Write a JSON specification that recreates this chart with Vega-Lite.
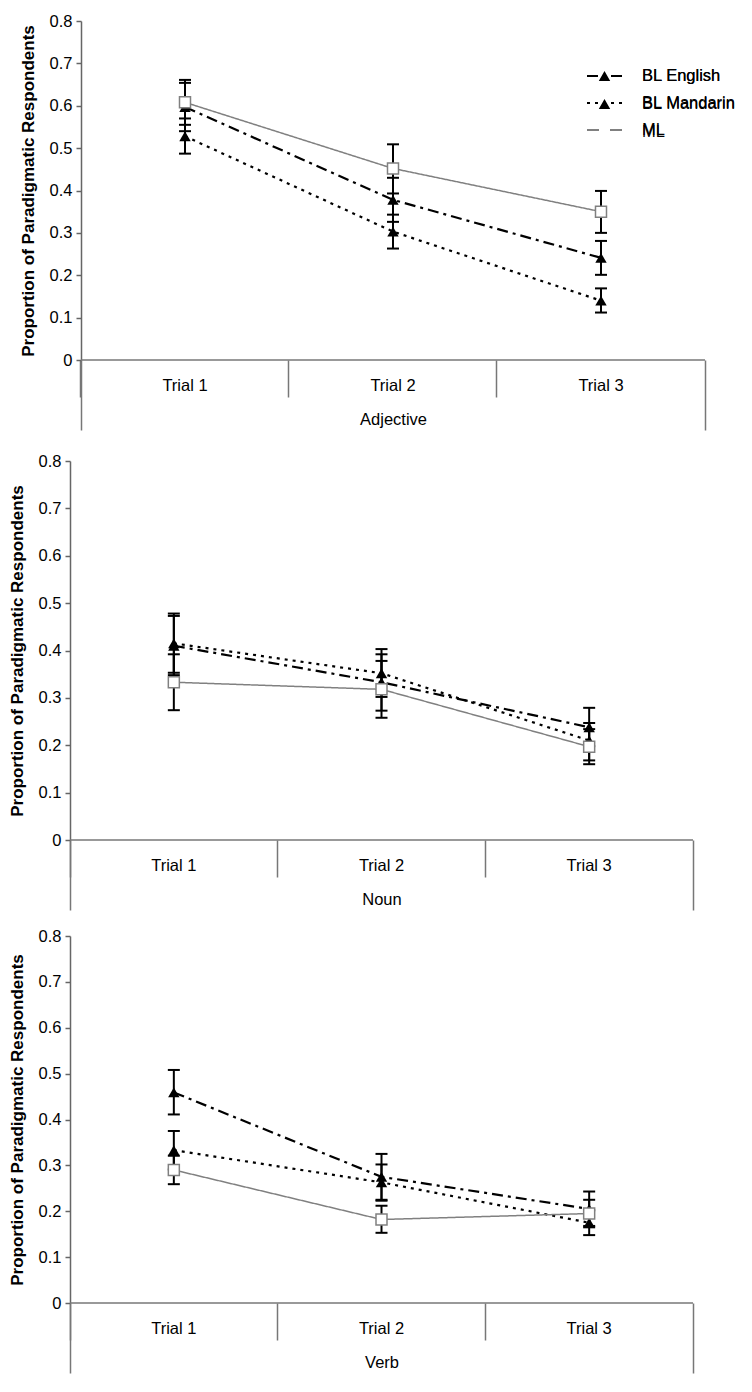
{
  "$schema": "https://vega.github.io/schema/vega-lite/v6.json",
  "background": "white",
  "padding": {"left": 8, "top": 13, "right": 5, "bottom": 5},
  "config": {
    "view": {"stroke": null},
    "font": "Liberation Sans",
    "axisY": {"grid": false, "domainColor": "#666666", "domainWidth": 1.5, "tickColor": "#666666", "tickWidth": 1.5, "tickSize": 5, "labelFontSize": 16.5, "labelColor": "black", "labelPadding": 4, "titleFontSize": 17, "titleFontWeight": "bold", "titleColor": "black", "titlePadding": 12}
  },
  "datasets": {
    "d": [
      {"pos":"Adjective","group":"BL English","trial":"Trial 1","value":0.597,"lo":0.540,"hi":0.654},
      {"pos":"Adjective","group":"BL English","trial":"Trial 2","value":0.378,"lo":0.326,"hi":0.430},
      {"pos":"Adjective","group":"BL English","trial":"Trial 3","value":0.241,"lo":0.201,"hi":0.281},
      {"pos":"Adjective","group":"BL Mandarin","trial":"Trial 1","value":0.528,"lo":0.487,"hi":0.570},
      {"pos":"Adjective","group":"BL Mandarin","trial":"Trial 2","value":0.303,"lo":0.263,"hi":0.343},
      {"pos":"Adjective","group":"BL Mandarin","trial":"Trial 3","value":0.140,"lo":0.112,"hi":0.169},
      {"pos":"Adjective","group":"ML","trial":"Trial 1","value":0.608,"lo":0.555,"hi":0.661},
      {"pos":"Adjective","group":"ML","trial":"Trial 2","value":0.452,"lo":0.393,"hi":0.509},
      {"pos":"Adjective","group":"ML","trial":"Trial 3","value":0.350,"lo":0.300,"hi":0.399},
      {"pos":"Noun","group":"BL English","trial":"Trial 1","value":0.410,"lo":0.348,"hi":0.473},
      {"pos":"Noun","group":"BL English","trial":"Trial 2","value":0.333,"lo":0.273,"hi":0.392},
      {"pos":"Noun","group":"BL English","trial":"Trial 3","value":0.238,"lo":0.198,"hi":0.279},
      {"pos":"Noun","group":"BL Mandarin","trial":"Trial 1","value":0.415,"lo":0.353,"hi":0.478},
      {"pos":"Noun","group":"BL Mandarin","trial":"Trial 2","value":0.352,"lo":0.302,"hi":0.403},
      {"pos":"Noun","group":"BL Mandarin","trial":"Trial 3","value":0.210,"lo":0.168,"hi":0.247},
      {"pos":"Noun","group":"ML","trial":"Trial 1","value":0.333,"lo":0.274,"hi":0.392},
      {"pos":"Noun","group":"ML","trial":"Trial 2","value":0.318,"lo":0.258,"hi":0.378},
      {"pos":"Noun","group":"ML","trial":"Trial 3","value":0.197,"lo":0.160,"hi":0.234},
      {"pos":"Verb","group":"BL English","trial":"Trial 1","value":0.459,"lo":0.411,"hi":0.508},
      {"pos":"Verb","group":"BL English","trial":"Trial 2","value":0.275,"lo":0.225,"hi":0.325},
      {"pos":"Verb","group":"BL English","trial":"Trial 3","value":0.205,"lo":0.168,"hi":0.243},
      {"pos":"Verb","group":"BL Mandarin","trial":"Trial 1","value":0.333,"lo":0.291,"hi":0.375},
      {"pos":"Verb","group":"BL Mandarin","trial":"Trial 2","value":0.263,"lo":0.223,"hi":0.302},
      {"pos":"Verb","group":"BL Mandarin","trial":"Trial 3","value":0.175,"lo":0.148,"hi":0.202},
      {"pos":"Verb","group":"ML","trial":"Trial 1","value":0.290,"lo":0.259,"hi":0.321},
      {"pos":"Verb","group":"ML","trial":"Trial 2","value":0.182,"lo":0.153,"hi":0.212},
      {"pos":"Verb","group":"ML","trial":"Trial 3","value":0.195,"lo":0.165,"hi":0.225}
    ]
  },
  "resolve": {"scale": {"color": "independent", "strokeDash": "independent"}},
  "spacing": 22,
  "vconcat": [
    {
      "width": 635,
      "height": 339,
      "resolve": {"scale": {"x": "independent", "y": "independent"}},
      "layer": [
        {
          "data": {"name": "d"},
          "transform": [{"filter": "datum.pos === 'Adjective'"}],
          "encoding": {
            "x": {"field": "trial", "type": "nominal",
              "scale": {"type": "band", "paddingInner": 0, "paddingOuter": 0.02644, "align": 1, "domain": ["Trial 1", "Trial 2", "Trial 3"]},
              "axis": {"title": "Adjective", "titleX": 323, "labelAngle": 0, "bandPosition": 0, "tickSize": 37, "tickColor": "#777777", "tickWidth": 1.5, "domain": false, "grid": false, "labelPadding": -20, "labelFontSize": 16.5, "labelColor": "black", "titleFontSize": 16.5, "titleFontWeight": "normal", "titleColor": "black", "titlePadding": 14}}
          },
          "layer": [
            {"mark": {"type": "rule", "color": "black", "strokeWidth": 2},
             "encoding": {"y": {"field": "lo", "type": "quantitative", "scale": {"domain": [0, 0.8], "nice": false}, "axis": {"title": "Proportion of Paradigmatic Respondents", "values": [0, 0.1, 0.2, 0.3, 0.4, 0.5, 0.6, 0.7, 0.8], "format": ".1~f", "offset": -11}}, "y2": {"field": "hi"}}},
            {"mark": {"type": "tick", "color": "black", "thickness": 2, "size": 12, "opacity": 1},
             "encoding": {"y": {"field": "lo", "type": "quantitative", "axis": {"title": "Proportion of Paradigmatic Respondents", "values": [0, 0.1, 0.2, 0.3, 0.4, 0.5, 0.6, 0.7, 0.8], "format": ".1~f", "offset": -11}}}},
            {"mark": {"type": "tick", "color": "black", "thickness": 2, "size": 12, "opacity": 1},
             "encoding": {"y": {"field": "hi", "type": "quantitative", "axis": {"title": "Proportion of Paradigmatic Respondents", "values": [0, 0.1, 0.2, 0.3, 0.4, 0.5, 0.6, 0.7, 0.8], "format": ".1~f", "offset": -11}}}},
            {"transform": [{"filter": "datum.group !== 'ML'"}],
             "mark": {"type": "line", "strokeWidth": 2.2},
             "encoding": {
               "y": {"field": "value", "type": "quantitative", "axis": {"title": "Proportion of Paradigmatic Respondents", "values": [0, 0.1, 0.2, 0.3, 0.4, 0.5, 0.6, 0.7, 0.8], "format": ".1~f", "offset": -11}},
               "color": {"field": "group", "type": "nominal", "scale": {"domain": ["BL English", "BL Mandarin", "ML"], "range": ["black", "black", "#808080"]},
                 "legend": {"title": null, "orient": "none", "legendX": 503, "legendY": 36.5, "padding": 0, "symbolSize": 1225, "symbolStrokeWidth": 2, "symbolOffset": 13, "labelOffset": 19, "labelFontSize": 16.5, "labelColor": "black", "rowPadding": 0}},
               "strokeDash": {"field": "group", "type": "nominal", "scale": {"domain": ["BL English", "BL Mandarin", "ML"], "range": [[11, 5, 3, 5], [3, 5], [1, 0]]},
                 "legend": {"title": null, "orient": "none", "legendX": 503, "legendY": 36.5, "padding": 0, "symbolSize": 1225, "symbolStrokeWidth": 2, "symbolOffset": 13, "labelOffset": 19, "labelFontSize": 16.5, "labelColor": "black", "rowPadding": 0}}
             }},
            {"transform": [{"filter": "datum.group === 'ML'"}],
             "mark": {"type": "line", "strokeWidth": 1.5},
             "encoding": {
               "y": {"field": "value", "type": "quantitative", "axis": {"title": "Proportion of Paradigmatic Respondents", "values": [0, 0.1, 0.2, 0.3, 0.4, 0.5, 0.6, 0.7, 0.8], "format": ".1~f", "offset": -11}},
               "color": {"field": "group", "type": "nominal",
                 "legend": {"title": null, "orient": "none", "legendX": 503, "legendY": 36.5, "padding": 0, "symbolSize": 1225, "symbolStrokeWidth": 2, "symbolOffset": 13, "labelOffset": 19, "labelFontSize": 16.5, "labelColor": "black", "rowPadding": 0}},
               "strokeDash": {"field": "group", "type": "nominal",
                 "legend": {"title": null, "orient": "none", "legendX": 503, "legendY": 36.5, "padding": 0, "symbolSize": 1225, "symbolStrokeWidth": 2, "symbolOffset": 13, "labelOffset": 19, "labelFontSize": 16.5, "labelColor": "black", "rowPadding": 0}}
             }},
            {"transform": [{"filter": "datum.group !== 'ML'"}],
             "mark": {"type": "point", "shape": "triangle-up", "filled": true, "color": "black", "size": 130, "opacity": 1},
             "encoding": {"y": {"field": "value", "type": "quantitative", "axis": {"title": "Proportion of Paradigmatic Respondents", "values": [0, 0.1, 0.2, 0.3, 0.4, 0.5, 0.6, 0.7, 0.8], "format": ".1~f", "offset": -11}}}},
            {"transform": [{"filter": "datum.group === 'ML'"}],
             "mark": {"type": "point", "shape": "square", "filled": true, "fill": "white", "stroke": "#808080", "strokeWidth": 1.5, "size": 121, "opacity": 1},
             "encoding": {"y": {"field": "value", "type": "quantitative", "axis": {"title": "Proportion of Paradigmatic Respondents", "values": [0, 0.1, 0.2, 0.3, 0.4, 0.5, 0.6, 0.7, 0.8], "format": ".1~f", "offset": -11}}}},
            {"transform": [{"filter": "false"}],
             "mark": {"type": "point", "filled": true, "size": 121, "opacity": 1},
             "encoding": {
               "y": {"field": "value", "type": "quantitative", "axis": {"title": "Proportion of Paradigmatic Respondents", "values": [0, 0.1, 0.2, 0.3, 0.4, 0.5, 0.6, 0.7, 0.8], "format": ".1~f", "offset": -11}},
               "shape": {"field": "group", "type": "nominal", "scale": {"domain": ["BL English", "BL Mandarin", "ML"], "range": ["M-1.8,0H1.8M0,-0.282L-0.326,0.282L0.326,0.282Z", "M-1.8,0H1.8M0,-0.282L-0.326,0.282L0.326,0.282Z", "M-1.8,0H-0.314M0.314,0H1.8M-0.314,-0.314H0.314V0.314H-0.314Z"]},
                 "legend": {"title": null, "orient": "none", "legendX": 503, "legendY": 36.5, "padding": 0, "symbolSize": 1225, "symbolStrokeWidth": 2, "symbolOffset": 13, "labelOffset": 19, "labelFontSize": 16.5, "labelColor": "black", "rowPadding": 0}},
               "fill": {"field": "group", "type": "nominal", "scale": {"domain": ["BL English", "BL Mandarin", "ML"], "range": ["black", "black", "white"]},
                 "legend": {"title": null, "orient": "none", "legendX": 503, "legendY": 36.5, "padding": 0, "symbolSize": 1225, "symbolStrokeWidth": 2, "symbolOffset": 13, "labelOffset": 19, "labelFontSize": 16.5, "labelColor": "black", "rowPadding": 0}}
             }}
          ]
        },
        {
          "data": {"values": [{}]},
          "mark": {"type": "rule", "color": "#777777", "strokeWidth": 1.5},
          "encoding": {
            "x": {"datum": 0, "type": "quantitative", "scale": {"domain": [-0.017628, 1], "nice": false, "zero": false},
              "axis": {"orient": "bottom", "values": [0, 1], "tickSize": 70, "tickColor": "#777777", "tickWidth": 1.5, "labels": false, "domain": false, "title": null, "grid": false}},
            "x2": {"datum": 1},
            "y": {"datum": 0, "type": "quantitative", "scale": {"domain": [0, 0.8], "nice": false}, "axis": null}
          }
        }
      ]
    },
    {
      "spacing": 17,
      "vconcat": [
        {
          "width": 623,
          "height": 379,
          "resolve": {"scale": {"x": "independent", "y": "independent"}},
          "layer": [
            {
              "data": {"name": "d"},
              "transform": [{"filter": "datum.pos === 'Noun'"}],
              "encoding": {
                "x": {"field": "trial", "type": "nominal",
                  "scale": {"type": "band", "paddingInner": 0, "paddingOuter": 0, "domain": ["Trial 1", "Trial 2", "Trial 3"]},
                  "axis": {"title": "Noun", "labelAngle": 0, "bandPosition": 0, "tickSize": 37, "tickColor": "#777777", "tickWidth": 1.5, "domain": false, "grid": false, "labelPadding": -20, "labelFontSize": 16.5, "labelColor": "black", "titleFontSize": 16.5, "titleFontWeight": "normal", "titleColor": "black", "titlePadding": 14}}
              },
              "layer": [
                {"mark": {"type": "rule", "color": "black", "strokeWidth": 2},
                 "encoding": {"y": {"field": "lo", "type": "quantitative", "scale": {"domain": [0, 0.8], "nice": false}, "axis": {"title": "Proportion of Paradigmatic Respondents", "values": [0, 0.1, 0.2, 0.3, 0.4, 0.5, 0.6, 0.7, 0.8], "format": ".1~f"}}, "y2": {"field": "hi"}}},
                {"mark": {"type": "tick", "color": "black", "thickness": 2, "size": 12, "opacity": 1},
                 "encoding": {"y": {"field": "lo", "type": "quantitative", "axis": {"title": "Proportion of Paradigmatic Respondents", "values": [0, 0.1, 0.2, 0.3, 0.4, 0.5, 0.6, 0.7, 0.8], "format": ".1~f"}}}},
                {"mark": {"type": "tick", "color": "black", "thickness": 2, "size": 12, "opacity": 1},
                 "encoding": {"y": {"field": "hi", "type": "quantitative", "axis": {"title": "Proportion of Paradigmatic Respondents", "values": [0, 0.1, 0.2, 0.3, 0.4, 0.5, 0.6, 0.7, 0.8], "format": ".1~f"}}}},
                {"transform": [{"filter": "datum.group !== 'ML'"}],
                 "mark": {"type": "line", "strokeWidth": 2.2},
                 "encoding": {
                   "y": {"field": "value", "type": "quantitative", "axis": {"title": "Proportion of Paradigmatic Respondents", "values": [0, 0.1, 0.2, 0.3, 0.4, 0.5, 0.6, 0.7, 0.8], "format": ".1~f"}},
                   "color": {"field": "group", "type": "nominal", "scale": {"domain": ["BL English", "BL Mandarin", "ML"], "range": ["black", "black", "#808080"]}, "legend": null},
                   "strokeDash": {"field": "group", "type": "nominal", "scale": {"domain": ["BL English", "BL Mandarin", "ML"], "range": [[11, 5, 3, 5], [3, 5], [1, 0]]}, "legend": null}
                 }},
                {"transform": [{"filter": "datum.group === 'ML'"}],
                 "mark": {"type": "line", "strokeWidth": 1.5},
                 "encoding": {
                   "y": {"field": "value", "type": "quantitative", "axis": {"title": "Proportion of Paradigmatic Respondents", "values": [0, 0.1, 0.2, 0.3, 0.4, 0.5, 0.6, 0.7, 0.8], "format": ".1~f"}},
                   "color": {"field": "group", "type": "nominal", "legend": null},
                   "strokeDash": {"field": "group", "type": "nominal", "legend": null}
                 }},
                {"transform": [{"filter": "datum.group !== 'ML'"}],
                 "mark": {"type": "point", "shape": "triangle-up", "filled": true, "color": "black", "size": 130, "opacity": 1},
                 "encoding": {"y": {"field": "value", "type": "quantitative", "axis": {"title": "Proportion of Paradigmatic Respondents", "values": [0, 0.1, 0.2, 0.3, 0.4, 0.5, 0.6, 0.7, 0.8], "format": ".1~f"}}}},
                {"transform": [{"filter": "datum.group === 'ML'"}],
                 "mark": {"type": "point", "shape": "square", "filled": true, "fill": "white", "stroke": "#808080", "strokeWidth": 1.5, "size": 121, "opacity": 1},
                 "encoding": {"y": {"field": "value", "type": "quantitative", "axis": {"title": "Proportion of Paradigmatic Respondents", "values": [0, 0.1, 0.2, 0.3, 0.4, 0.5, 0.6, 0.7, 0.8], "format": ".1~f"}}}}
              ]
            },
            {
              "data": {"values": [{}]},
              "mark": {"type": "rule", "color": "#777777", "strokeWidth": 1.5},
              "encoding": {
                "x": {"datum": 0, "type": "quantitative", "scale": {"domain": [0, 1], "nice": false, "zero": false},
                  "axis": {"orient": "bottom", "values": [0, 1], "tickSize": 70, "tickColor": "#777777", "tickWidth": 1.5, "labels": false, "domain": false, "title": null, "grid": false}},
                "x2": {"datum": 1},
                "y": {"datum": 0, "type": "quantitative", "scale": {"domain": [0, 0.8], "nice": false}, "axis": null}
              }
            }
          ]
        },
        {
          "width": 623,
          "height": 367,
          "resolve": {"scale": {"x": "independent", "y": "independent"}},
          "layer": [
            {
              "data": {"name": "d"},
              "transform": [{"filter": "datum.pos === 'Verb'"}],
              "encoding": {
                "x": {"field": "trial", "type": "nominal",
                  "scale": {"type": "band", "paddingInner": 0, "paddingOuter": 0, "domain": ["Trial 1", "Trial 2", "Trial 3"]},
                  "axis": {"title": "Verb", "labelAngle": 0, "bandPosition": 0, "tickSize": 37, "tickColor": "#777777", "tickWidth": 1.5, "domain": false, "grid": false, "labelPadding": -20, "labelFontSize": 16.5, "labelColor": "black", "titleFontSize": 16.5, "titleFontWeight": "normal", "titleColor": "black", "titlePadding": 14}}
              },
              "layer": [
                {"mark": {"type": "rule", "color": "black", "strokeWidth": 2},
                 "encoding": {"y": {"field": "lo", "type": "quantitative", "scale": {"domain": [0, 0.8], "nice": false}, "axis": {"title": "Proportion of Paradigmatic Respondents", "values": [0, 0.1, 0.2, 0.3, 0.4, 0.5, 0.6, 0.7, 0.8], "format": ".1~f"}}, "y2": {"field": "hi"}}},
                {"mark": {"type": "tick", "color": "black", "thickness": 2, "size": 12, "opacity": 1},
                 "encoding": {"y": {"field": "lo", "type": "quantitative", "axis": {"title": "Proportion of Paradigmatic Respondents", "values": [0, 0.1, 0.2, 0.3, 0.4, 0.5, 0.6, 0.7, 0.8], "format": ".1~f"}}}},
                {"mark": {"type": "tick", "color": "black", "thickness": 2, "size": 12, "opacity": 1},
                 "encoding": {"y": {"field": "hi", "type": "quantitative", "axis": {"title": "Proportion of Paradigmatic Respondents", "values": [0, 0.1, 0.2, 0.3, 0.4, 0.5, 0.6, 0.7, 0.8], "format": ".1~f"}}}},
                {"transform": [{"filter": "datum.group !== 'ML'"}],
                 "mark": {"type": "line", "strokeWidth": 2.2},
                 "encoding": {
                   "y": {"field": "value", "type": "quantitative", "axis": {"title": "Proportion of Paradigmatic Respondents", "values": [0, 0.1, 0.2, 0.3, 0.4, 0.5, 0.6, 0.7, 0.8], "format": ".1~f"}},
                   "color": {"field": "group", "type": "nominal", "scale": {"domain": ["BL English", "BL Mandarin", "ML"], "range": ["black", "black", "#808080"]}, "legend": null},
                   "strokeDash": {"field": "group", "type": "nominal", "scale": {"domain": ["BL English", "BL Mandarin", "ML"], "range": [[11, 5, 3, 5], [3, 5], [1, 0]]}, "legend": null}
                 }},
                {"transform": [{"filter": "datum.group === 'ML'"}],
                 "mark": {"type": "line", "strokeWidth": 1.5},
                 "encoding": {
                   "y": {"field": "value", "type": "quantitative", "axis": {"title": "Proportion of Paradigmatic Respondents", "values": [0, 0.1, 0.2, 0.3, 0.4, 0.5, 0.6, 0.7, 0.8], "format": ".1~f"}},
                   "color": {"field": "group", "type": "nominal", "legend": null},
                   "strokeDash": {"field": "group", "type": "nominal", "legend": null}
                 }},
                {"transform": [{"filter": "datum.group !== 'ML'"}],
                 "mark": {"type": "point", "shape": "triangle-up", "filled": true, "color": "black", "size": 130, "opacity": 1},
                 "encoding": {"y": {"field": "value", "type": "quantitative", "axis": {"title": "Proportion of Paradigmatic Respondents", "values": [0, 0.1, 0.2, 0.3, 0.4, 0.5, 0.6, 0.7, 0.8], "format": ".1~f"}}}},
                {"transform": [{"filter": "datum.group === 'ML'"}],
                 "mark": {"type": "point", "shape": "square", "filled": true, "fill": "white", "stroke": "#808080", "strokeWidth": 1.5, "size": 121, "opacity": 1},
                 "encoding": {"y": {"field": "value", "type": "quantitative", "axis": {"title": "Proportion of Paradigmatic Respondents", "values": [0, 0.1, 0.2, 0.3, 0.4, 0.5, 0.6, 0.7, 0.8], "format": ".1~f"}}}}
              ]
            },
            {
              "data": {"values": [{}]},
              "mark": {"type": "rule", "color": "#777777", "strokeWidth": 1.5},
              "encoding": {
                "x": {"datum": 0, "type": "quantitative", "scale": {"domain": [0, 1], "nice": false, "zero": false},
                  "axis": {"orient": "bottom", "values": [0, 1], "tickSize": 70, "tickColor": "#777777", "tickWidth": 1.5, "labels": false, "domain": false, "title": null, "grid": false}},
                "x2": {"datum": 1},
                "y": {"datum": 0, "type": "quantitative", "scale": {"domain": [0, 0.8], "nice": false}, "axis": null}
              }
            }
          ]
        }
      ]
    }
  ]
}
